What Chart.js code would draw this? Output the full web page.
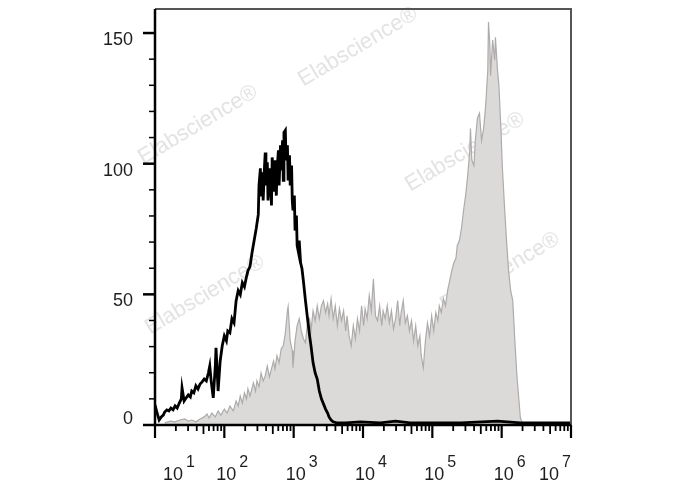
<!DOCTYPE html>
<html><head><meta charset="utf-8">
<script src="https://cdn.jsdelivr.net/npm/chart.js@4.4.0/dist/chart.umd.min.js"></script>
<style>html,body{margin:0;padding:0;background:#fff;}#wrap{width:688px;height:490px;}</style>
</head><body><div id="wrap"><canvas id="c" width="688" height="490"></canvas></div>
<script>
// x axis decades (exponents of 10) and their labels
const xDecades = [1, 2, 3, 4, 5, 6, 7];
const xLabelBase = ['10', '10', '10', '10', '10', '10', '10'];
const xLabelExp = ['1', '2', '3', '4', '5', '6', '7'];
// y axis ticks
const yMajorTicks = [0, 50, 100, 150];
const yTickLabels = ['0', '50', '100', '150'];
const yMinorTicks = [10, 20, 30, 40, 60, 70, 80, 90, 110, 120, 130, 140];

// Black (unstained / isotype) histogram: log10 of intensity, counts
const blackLogX = [
  1.00,1.03,1.06,1.09,1.12,1.14,1.17,1.20,1.23,1.26,
  1.29,1.32,1.35,1.38,1.39,1.42,1.45,1.48,1.51,1.53,
  1.56,1.59,1.62,1.65,1.68,1.71,1.74,1.77,1.79,1.81,
  1.84,1.87,1.88,1.91,1.94,1.97,2.00,2.03,2.05,2.08,
  2.11,2.14,2.17,2.20,2.23,2.26,2.29,2.32,2.34,2.37,
  2.40,2.43,2.46,2.49,2.50,2.52,2.53,2.55,2.56,2.58,
  2.59,2.60,2.62,2.63,2.65,2.66,2.68,2.69,2.71,2.72,
  2.73,2.75,2.76,2.78,2.79,2.81,2.82,2.84,2.85,2.86,
  2.88,2.89,2.91,2.92,2.94,2.95,2.97,2.98,2.99,3.01,
  3.02,3.04,3.05,3.07,3.08,3.10,3.12,3.14,3.17,3.20,
  3.23,3.25,3.28,3.31,3.34,3.37,3.40,3.43,3.46,3.49,
  3.51,3.54,3.57,3.62,3.75,3.96,4.25,4.47,4.68,4.97,
  5.41,5.94,6.27,7.00
];
const blackCounts = [
  7.7,4.6,1.9,3.1,3.8,5.0,5.8,5.4,6.5,5.8,
  7.3,6.5,8.4,10,14.2,9.2,10.4,11.5,10.7,13,
  12.3,15,13.8,15.7,16.5,17.6,16.9,19.9,22.6,16.9,
  10.4,22.6,29.5,13,24.5,30.3,34.1,32.2,36,35.3,
  40.7,39.1,47.6,51.4,49.9,54.5,52.9,56.8,59,60.6,
  66,70.6,75.2,80.6,91.7,98.2,87.5,96.7,85.9,99.3,
  104.3,91.7,100.5,85.9,95.5,98.2,84,102.4,95.5,89.8,
  101.3,87.8,97.4,105.1,91.7,107,97.4,108.9,93.6,112,
  112.8,101.3,107,93.6,103.2,91.7,99.3,85.9,82.1,87.8,
  74.4,80.2,68.7,66,70.6,62.1,59.8,55.2,47.6,40.7,
  34.1,30.3,23.8,19.9,17.6,13,10,8.1,6.1,4.6,
  3.1,1.9,1.2,0.8,0.8,1.2,0.8,1.5,0.8,0.8,
  0.8,1.5,0.8,0.8
];

// Grey (stained) histogram: log10 of intensity, counts
const greyLogX = [
  1.14,1.22,1.29,1.36,1.43,1.48,1.53,1.59,1.65,1.71,
  1.75,1.78,1.82,1.87,1.91,1.95,2.00,2.04,2.08,2.13,
  2.17,2.20,2.23,2.26,2.29,2.32,2.34,2.37,2.42,2.45,
  2.47,2.50,2.53,2.56,2.59,2.62,2.65,2.68,2.71,2.73,
  2.76,2.79,2.82,2.85,2.88,2.91,2.92,2.95,2.98,2.99,
  3.02,3.05,3.08,3.11,3.14,3.17,3.20,3.23,3.25,3.28,
  3.31,3.34,3.37,3.40,3.43,3.46,3.49,3.51,3.54,3.57,
  3.60,3.63,3.66,3.69,3.72,3.75,3.77,3.80,3.83,3.86,
  3.89,3.92,3.95,3.98,4.01,4.03,4.06,4.09,4.12,4.15,
  4.18,4.21,4.24,4.27,4.29,4.32,4.35,4.38,4.41,4.44,
  4.47,4.50,4.53,4.55,4.58,4.61,4.64,4.67,4.70,4.73,
  4.76,4.79,4.82,4.84,4.87,4.90,4.93,4.96,4.99,5.02,
  5.05,5.08,5.10,5.13,5.16,5.19,5.22,5.25,5.28,5.31,
  5.34,5.36,5.39,5.42,5.45,5.48,5.51,5.54,5.55,5.57,
  5.60,5.62,5.65,5.68,5.71,5.74,5.77,5.80,5.81,5.83,
  5.84,5.87,5.90,5.91,5.94,5.96,5.99,6.01,6.04,6.07,
  6.10,6.13,6.16,6.19,6.22,6.25,6.27,6.30
];
const greyCounts = [
  0.8,1.5,1.2,1.9,2.3,1.5,1.9,1.2,2.3,3.1,
  4.2,2.7,4.6,3.1,5.4,3.8,6.1,4.6,7.3,5.4,
  9.2,7.3,11.1,8.4,12.3,10,13.8,11.1,16.1,13,
  16.9,14.6,19.9,16.9,18.8,22.6,18.4,21.5,24.5,21.5,
  26.5,23.8,29.2,30.3,35.3,43.7,45.3,32.2,28.4,21.9,
  32.2,38,40.7,36,33,31.5,39.1,40.7,36,43.7,
  39.9,45.6,40.7,45.6,47.6,43,46.4,41.8,48.3,40.7,
  45.6,38,44.5,39.9,43.7,36,41.8,34.1,30.3,38,
  33,40.7,36,45.6,38,44.5,40.7,49.5,43.7,56,
  41.8,39.9,45.6,38,43.7,40.7,45.6,39.1,43.7,36.8,
  40.7,47.6,38,43,47.6,39.1,41.8,36,39.9,32.2,
  38,30.3,34.1,26.5,21.9,32.2,39.1,34.1,41.8,36,
  43,39.9,45.6,43,48.3,45.6,51.4,55.2,59,62.1,
  63.7,68.7,70.6,75.2,82.1,87.8,95.5,105.1,113.5,101.3,
  99.3,108.9,117.4,119.3,108.9,113.5,122.4,135.8,154.2,145.4,
  133.7,147.3,139.6,148.4,135.8,130,112.8,98.6,84,70.6,
  59,51.4,47.6,32.2,18.8,9.2,2.7,0.8
];

const watermarkText = 'Elabscience\u00AE';

const toPoints = (lx, ys) => lx.map((e, i) => ({ x: Math.pow(10, e), y: ys[i] }));

const watermarkPlugin = {
  id: 'watermark',
  beforeDatasetsDraw(chart) {
    const ctx = chart.ctx;
    const spots = [[358, 47], [198, 125], [465, 152], [205, 295], [500, 272], [305, 383]];
    ctx.save();
    ctx.fillStyle = '#e3e3e3';
    ctx.font = '22px "Liberation Sans", Arial, sans-serif';
    ctx.textAlign = 'center';
    ctx.textBaseline = 'middle';
    spots.forEach(([cx, cy]) => {
      ctx.save();
      ctx.translate(cx, cy);
      ctx.rotate(-0.54);
      ctx.fillText(watermarkText, 0, 0);
      ctx.restore();
    });
    ctx.restore();
  }
};

const axesPlugin = {
  id: 'customAxes',
  afterDatasetsDraw(chart) {
    const ctx = chart.ctx;
    const xs = chart.scales.x, ys = chart.scales.y, ca = chart.chartArea;
    ctx.save();
    // top & right frame
    ctx.strokeStyle = '#555';
    ctx.lineWidth = 2;
    ctx.beginPath();
    ctx.moveTo(ca.left, ca.top);
    ctx.lineTo(ca.right, ca.top);
    ctx.lineTo(ca.right, ca.bottom);
    ctx.stroke();
    // left & bottom axes
    ctx.strokeStyle = '#000';
    ctx.lineWidth = 2.5;
    ctx.beginPath();
    ctx.moveTo(ca.left, ca.top);
    ctx.lineTo(ca.left, ca.bottom);
    ctx.lineTo(ca.right, ca.bottom);
    ctx.stroke();

    // x ticks
    ctx.lineWidth = 2;
    xDecades.forEach((d, i) => {
      const px = xs.getPixelForValue(Math.pow(10, d));
      ctx.lineWidth = 2.2;
      ctx.beginPath(); ctx.moveTo(px, ca.bottom); ctx.lineTo(px, ca.bottom + 13); ctx.stroke();
      if (i < xDecades.length - 1) {
        for (let k = 2; k <= 9; k++) {
          const mx = xs.getPixelForValue(k * Math.pow(10, d));
          const len = k === 5 ? 9 : 6;
          ctx.lineWidth = 1.8;
          ctx.beginPath(); ctx.moveTo(mx, ca.bottom); ctx.lineTo(mx, ca.bottom + len); ctx.stroke();
        }
      }
    });
    // y ticks
    yMajorTicks.forEach(v => {
      const py = ys.getPixelForValue(v);
      ctx.lineWidth = 2.5;
      ctx.beginPath(); ctx.moveTo(ca.left, py); ctx.lineTo(ca.left - 12, py); ctx.stroke();
    });
    yMinorTicks.forEach(v => {
      const py = ys.getPixelForValue(v);
      ctx.lineWidth = 1.5;
      ctx.beginPath(); ctx.moveTo(ca.left, py); ctx.lineTo(ca.left - 6, py); ctx.stroke();
    });

    // y labels
    ctx.fillStyle = '#1e1e1e';
    ctx.font = '18px "Liberation Sans", Arial, sans-serif';
    ctx.textAlign = 'right';
    ctx.textBaseline = 'middle';
    yMajorTicks.forEach((v, i) => {
      const py = ys.getPixelForValue(v);
      const dy = v === 0 ? -6 : 7;
      ctx.fillText(yTickLabels[i], ca.left - 22, py + dy);
    });

    // x labels: "10" with raised exponent
    ctx.textAlign = 'left';
    ctx.textBaseline = 'alphabetic';
    const baseFont = '18px "Liberation Sans", Arial, sans-serif';
    const expFont = '16px "Liberation Sans", Arial, sans-serif';
    xDecades.forEach((d, i) => {
      const px = xs.getPixelForValue(Math.pow(10, d));
      ctx.font = baseFont;
      const bw = ctx.measureText(xLabelBase[i]).width;
      ctx.font = expFont;
      const ew = ctx.measureText(xLabelExp[i]).width;
      const total = bw + 3 + ew;
      let left;
      if (i === 0) left = px + 8;
      else if (i === xDecades.length - 1) left = px - total;
      else left = px - 8;
      ctx.font = baseFont;
      ctx.fillText(xLabelBase[i], left, ca.bottom + 55);
      ctx.font = expFont;
      ctx.fillText(xLabelExp[i], left + bw + 3, ca.bottom + 42);
    });
    ctx.restore();
  }
};

new Chart(document.getElementById('c').getContext('2d'), {
  type: 'line',
  data: {
    datasets: [
      {
        label: 'Control',
        data: toPoints(blackLogX, blackCounts),
        borderColor: '#000',
        borderWidth: 2.8,
        pointRadius: 0,
        fill: false,
        tension: 0
      },
      {
        label: 'Stained',
        data: toPoints(greyLogX, greyCounts),
        borderColor: '#aeabab',
        backgroundColor: '#dcdad9',
        borderWidth: 1.2,
        pointRadius: 0,
        fill: 'origin',
        tension: 0
      }
    ]
  },
  options: {
    responsive: false,
    devicePixelRatio: 1,
    animation: false,
    layout: { padding: { left: 155, top: 9, right: 117, bottom: 65 } },
    plugins: { legend: { display: false }, tooltip: { enabled: false } },
    scales: {
      x: { type: 'logarithmic', min: 10, max: 1e7, display: false },
      y: { type: 'linear', min: 0, max: 159.2, display: false }
    }
  },
  plugins: [watermarkPlugin, axesPlugin]
});
</script>
</body></html>
